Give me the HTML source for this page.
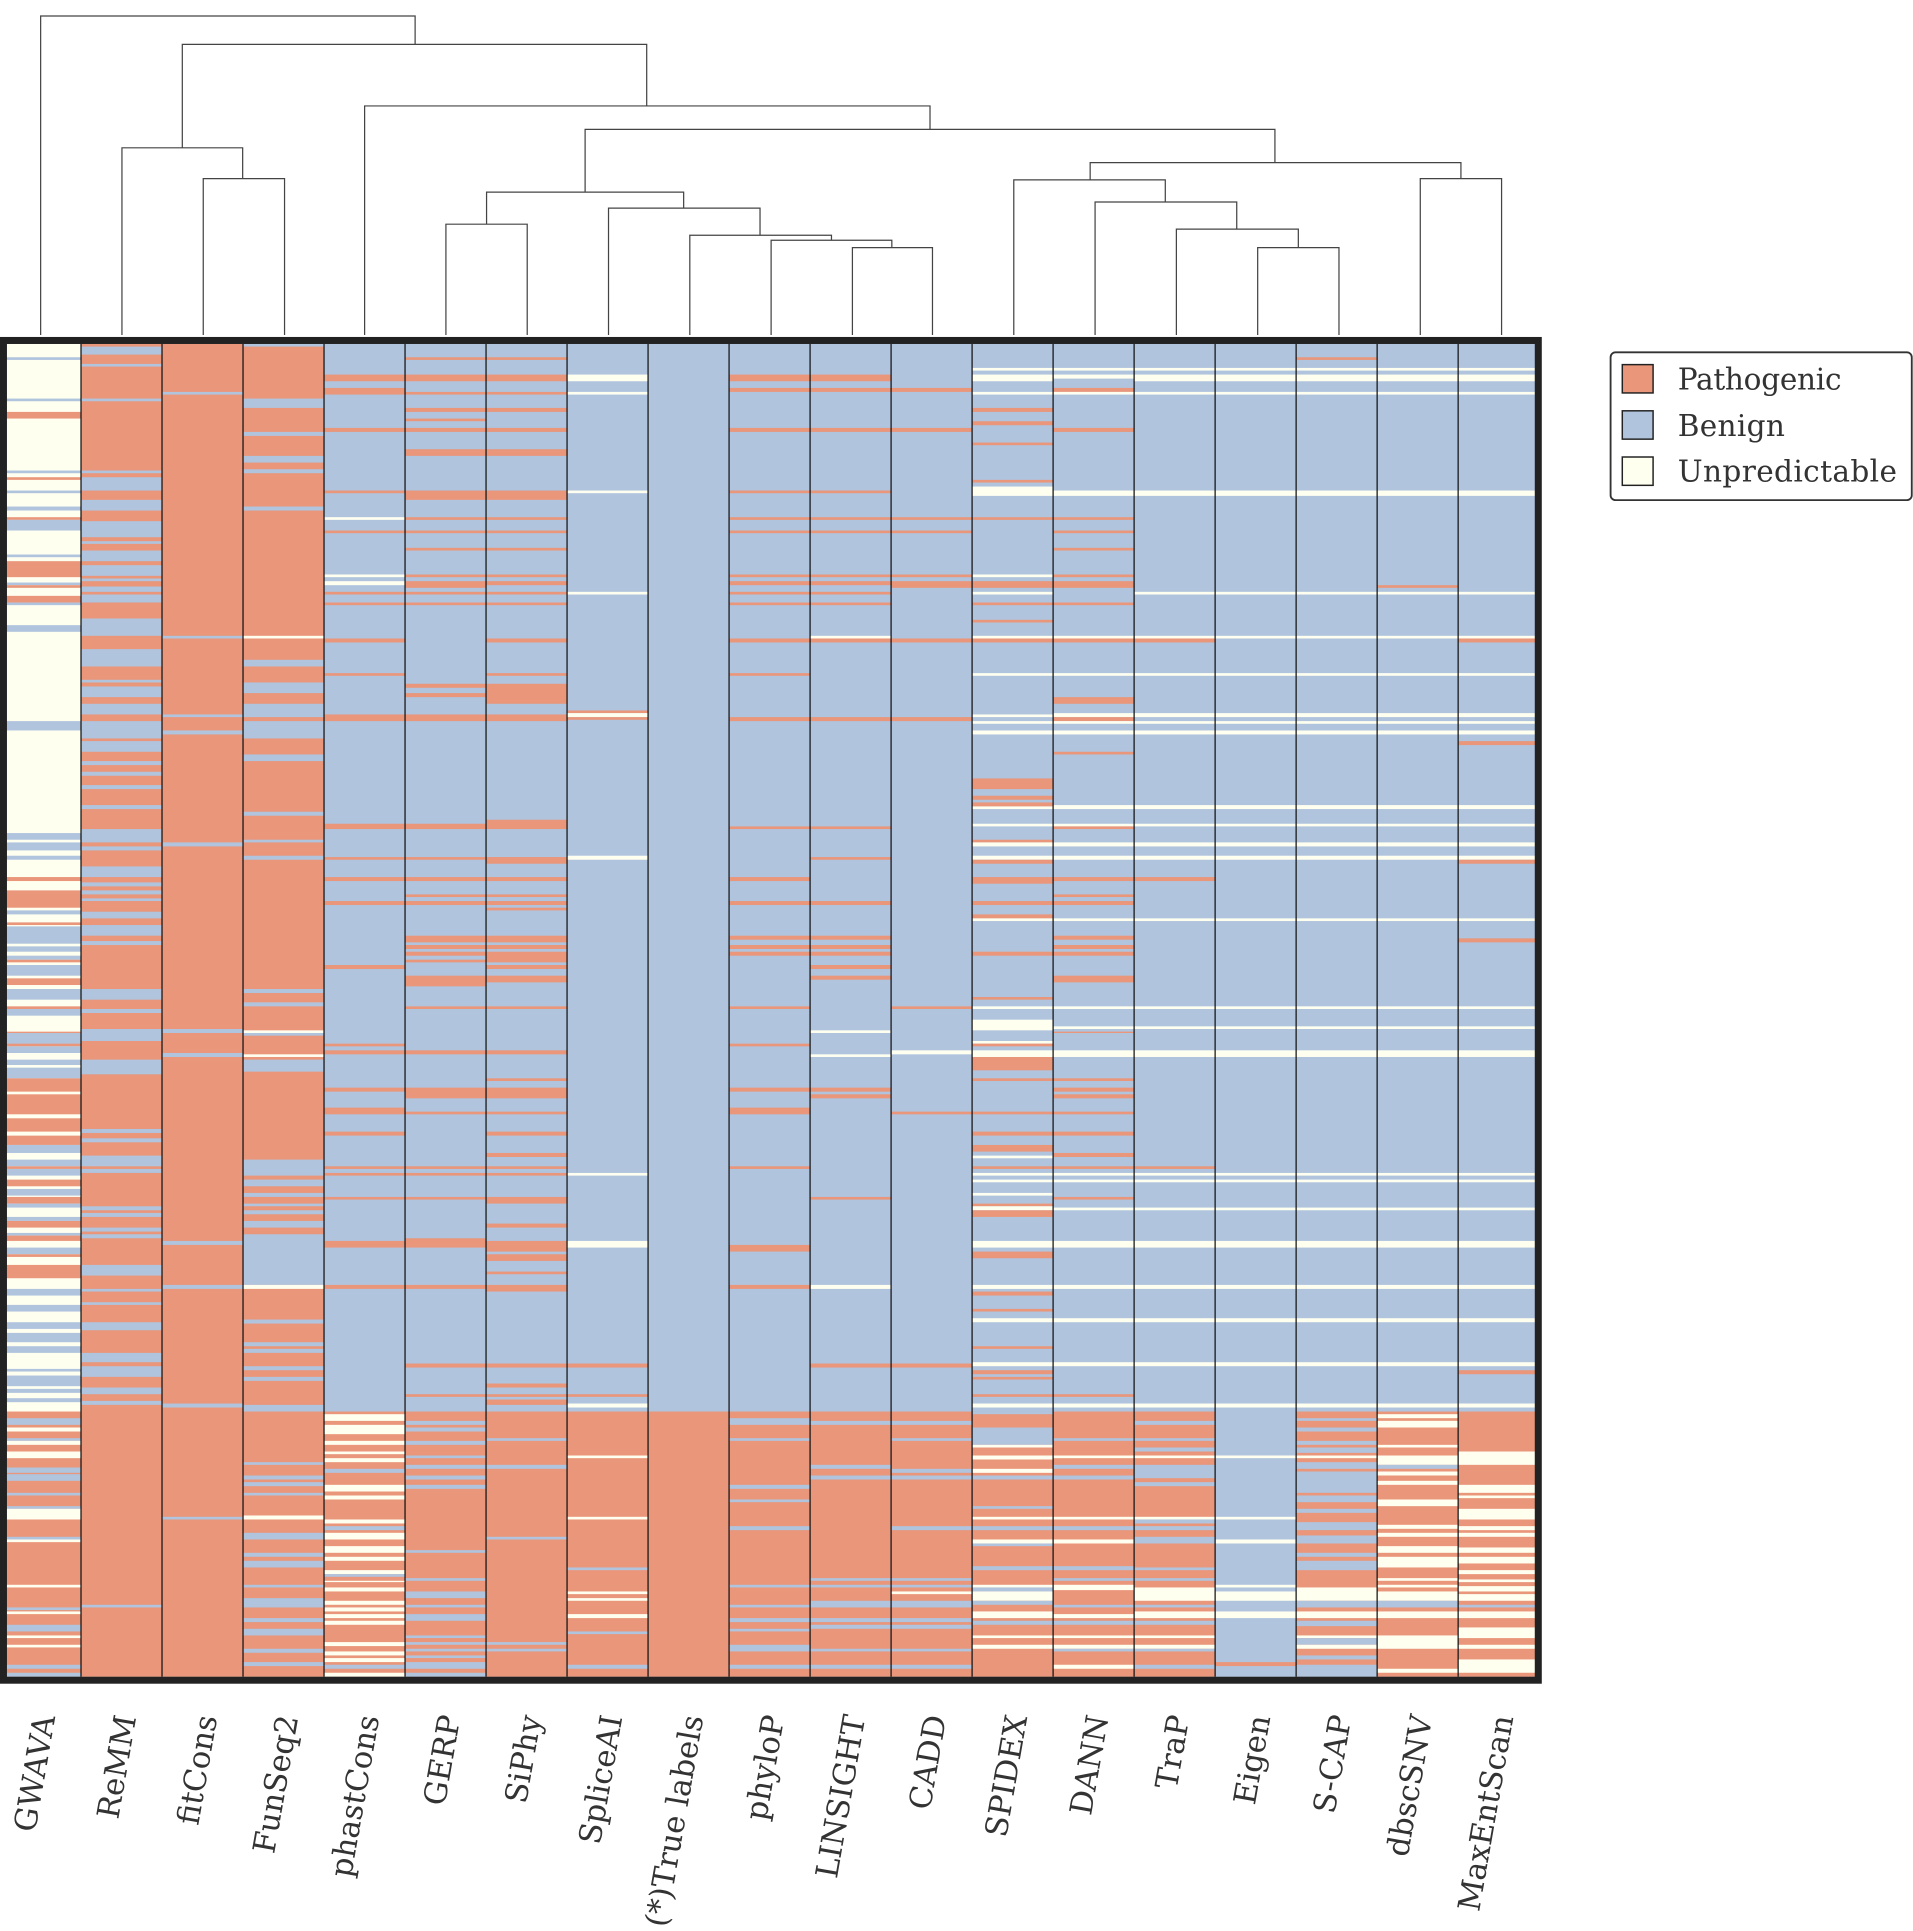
<!DOCTYPE html>
<html><head><meta charset="utf-8">
<style>
html,body{margin:0;padding:0;background:#fff;}
svg{display:block;}
text{font-family:"DejaVu Serif","Liberation Serif",serif;fill:#333;}
</style></head>
<body>
<svg id="chart" width="1913" height="1931" viewBox="0 0 1553 1567.6" preserveAspectRatio="none" xmlns="http://www.w3.org/2000/svg">
<g id="dendro" fill="none" stroke="#444" stroke-width="1">
<path d="M165,272 V145 H231 V272"/>
<path d="M99,272 V120 H197 V145"/>
<path d="M362,272 V182 H428 V272"/>
<path d="M692,272 V201 H757 V272"/>
<path d="M626,272 V195 H724 V201"/>
<path d="M560,272 V191 H675 V195"/>
<path d="M494,272 V169 H617 V191"/>
<path d="M395,182 V156 H555 V169"/>
<path d="M1021,272 V201 H1087 V272"/>
<path d="M955,272 V186 H1054 V201"/>
<path d="M889,272 V164 H1004 V186"/>
<path d="M823,272 V146 H946 V164"/>
<path d="M1153,272 V145 H1219 V272"/>
<path d="M885,146 V132 H1186 V145"/>
<path d="M475,156 V105 H1035 V132"/>
<path d="M296,272 V86 H755 V105"/>
<path d="M148,120 V36 H525 V86"/>
<path d="M33,272 V13 H337 V36"/>
</g>
<g id="cells"></g>
<g id="seps"></g>
<rect x="2.8" y="276.4" width="1246" height="1087.6" fill="none" stroke="#222" stroke-width="5.7"/>
<g id="xlabels"></g>
<g>
<rect x="1307.5" y="286" width="244.5" height="120" rx="4" fill="#fff" stroke="#333" stroke-width="1.5"/>
<rect x="1317" y="296" width="25" height="23" fill="#e9967a" stroke="#222" stroke-width="1.2"/>
<text x="1362" y="316" font-size="24" textLength="133">Pathogenic</text>
<rect x="1317" y="333.5" width="25" height="23" fill="#b0c4de" stroke="#222" stroke-width="1.2"/>
<text x="1362" y="354" font-size="24" textLength="87">Benign</text>
<rect x="1317" y="371" width="25" height="23" fill="#fffff0" stroke="#222" stroke-width="1.2"/>
<text x="1362" y="391" font-size="24" textLength="178">Unpredictable</text>
</g>
</svg>
<script>
const columns = ["GWAVA","ReMM","fitCons","FunSeq2","phastCons","GERP","SiPhy","SpliceAI","(*)True labels","phyloP","LINSIGHT","CADD","SPIDEX","DANN","TraP","Eigen","S-CAP","dbscSNV","MaxEntScan"];
const nRows = 1000;
const defaults = ["U","P","P","P","B","B","B","B","B","B","B","B","B","B","B","B","B","B","B"];
const commonU = [[18,20,"U"],[23,28,"U"],[36,38,"U"],[110,114,"U"],[186,188,"U"],[219,221,"U"],[247,249,"U"],[277,280,"U"],[283,285,"U"],[290,293,"U"],[346,349,"U"],[360,362,"U"],[374,377,"U"],[384,387,"U"],[431,433,"U"],[497,499,"U"],[512,514,"U"],[530,535,"U"],[622,624,"U"],[627,629,"U"],[648,650,"U"],[673,678,"U"],[706,709,"U"],[731,734,"U"],[764,767,"U"],[795,798,"U"]];
const runsGWAVA = [[10,12,"B"],[41,43,"B"],[51,56,"P"],[95,97,"B"],[100,102,"P"],[110,112,"B"],[122,125,"B"],[130,132,"P"],[132,140,"B"],[158,160,"B"],[163,175,"P"],[179,181,"B"],[181,183,"P"],[189,194,"P"],[194,196,"B"],[211,216,"B"],[283,290,"B"],[367,372,"B"],[374,380,"B"],[384,387,"B"],[400,403,"P"],[410,423,"P"],[425,428,"B"],[434,436,"P"],[437,450,"B"],[452,456,"B"],[459,462,"B"],[462,464,"P"],[466,474,"B"],[476,481,"P"],[484,492,"B"],[497,499,"P"],[499,504,"B"],[516,517,"P"],[517,526,"B"],[525,527,"P"],[527,532,"B"],[537,541,"B"],[543,551,"B"],[551,561,"P"],[563,578,"P"],[581,591,"P"],[594,601,"P"],[601,607,"B"],[612,617,"B"],[617,619,"P"],[619,624,"B"],[627,632,"P"],[634,639,"B"],[640,645,"P"],[645,648,"B"],[655,658,"B"],[658,663,"P"],[667,669,"B"],[669,673,"P"],[678,683,"B"],[683,685,"P"],[691,701,"P"],[709,714,"B"],[721,726,"B"],[734,739,"B"],[742,749,"B"],[752,757,"B"],[769,771,"B"],[774,782,"B"],[784,787,"B"],[791,794,"B"],[801,1000,"P"],[806,811,"B"],[813,816,"U"],[821,823,"B"],[823,826,"U"],[831,836,"U"],[843,847,"B"],[848,853,"B"],[862,864,"B"],[872,874,"B"],[874,882,"U"],[895,897,"B"],[897,899,"U"],[931,933,"U"],[948,950,"B"],[951,953,"U"],[961,966,"B"],[969,971,"U"],[976,978,"U"],[991,994,"B"],[997,1000,"B"]];
const runsReMM = [[2,8,"B"],[15,17,"B"],[41,43,"B"],[95,97,"B"],[100,110,"B"],[117,125,"B"],[133,145,"B"],[148,150,"B"],[155,163,"B"],[166,174,"B"],[176,178,"B"],[182,186,"B"],[188,194,"B"],[206,219,"B"],[229,242,"B"],[252,254,"B"],[257,265,"B"],[270,278,"B"],[283,296,"B"],[298,306,"B"],[313,316,"B"],[321,324,"B"],[331,334,"B"],[346,349,"B"],[364,374,"B"],[377,380,"B"],[392,400,"B"],[404,407,"B"],[410,413,"B"],[416,418,"B"],[426,431,"B"],[436,444,"B"],[448,451,"B"],[484,492,"B"],[499,502,"B"],[514,523,"B"],[537,548,"B"],[589,592,"B"],[596,599,"B"],[609,617,"B"],[619,622,"B"],[647,650,"B"],[652,655,"B"],[663,666,"B"],[668,671,"B"],[691,699,"B"],[709,711,"B"],[719,721,"B"],[734,740,"B"],[757,764,"B"],[767,775,"B"],[783,788,"B"],[793,796,"B"],[946,948,"B"]];
const runsFitCons = [[36,38,"B"],[219,221,"B"],[278,280,"B"],[290,293,"B"],[374,377,"B"],[514,517,"B"],[532,535,"B"],[673,676,"B"],[706,709,"B"],[795,798,"B"],[880,882,"B"]];
const runsFunSeq2 = [[0,2,"B"],[41,48,"B"],[66,69,"B"],[84,89,"B"],[94,97,"B"],[122,125,"B"],[219,221,"U"],[237,242,"B"],[254,262,"B"],[270,280,"B"],[283,296,"B"],[308,313,"B"],[351,354,"B"],[372,374,"B"],[384,387,"B"],[484,487,"B"],[494,497,"B"],[515,517,"U"],[517,519,"B"],[533,535,"U"],[537,546,"B"],[612,624,"B"],[627,632,"B"],[637,640,"B"],[645,647,"B"],[650,653,"B"],[658,663,"B"],[668,706,"B"],[706,709,"U"],[732,735,"B"],[749,752,"B"],[754,757,"B"],[767,770,"B"],[775,778,"B"],[796,801,"B"],[839,841,"B"],[849,852,"B"],[854,857,"B"],[862,864,"B"],[879,882,"U"],[892,897,"B"],[907,910,"B"],[913,918,"B"],[931,933,"B"],[941,948,"B"],[956,959,"B"],[964,969,"B"],[979,982,"B"],[989,992,"B"]];
const runsPhastCons = [[23,28,"P"],[33,38,"P"],[63,66,"P"],[110,112,"P"],[130,132,"U"],[140,142,"P"],[173,175,"U"],[178,181,"U"],[186,188,"P"],[194,196,"P"],[221,224,"P"],[247,249,"P"],[278,283,"P"],[360,364,"P"],[385,387,"P"],[400,403,"P"],[418,421,"P"],[466,469,"P"],[525,527,"P"],[530,533,"P"],[558,561,"P"],[573,578,"P"],[591,594,"P"],[617,619,"P"],[622,624,"P"],[640,642,"P"],[673,678,"P"],[706,709,"P"],[801,1000,"P"],[803,808,"U"],[811,818,"U"],[823,826,"U"],[831,833,"U"],[836,839,"U"],[844,847,"B"],[856,861,"U"],[864,867,"U"],[882,885,"U"],[887,890,"B"],[892,897,"U"],[902,907,"U"],[910,913,"U"],[920,923,"U"],[923,925,"B"],[928,929,"U"],[933,936,"U"],[943,946,"U"],[948,951,"U"],[953,956,"U"],[958,961,"U"],[974,977,"U"],[981,984,"U"],[986,989,"U"],[991,994,"B"],[997,1000,"U"]];
const runsGERP = [[10,12,"P"],[23,28,"P"],[36,38,"P"],[48,51,"P"],[56,58,"P"],[63,66,"P"],[79,84,"P"],[110,117,"P"],[130,132,"P"],[140,142,"P"],[153,155,"P"],[173,175,"P"],[178,183,"P"],[186,188,"P"],[194,196,"P"],[255,258,"P"],[262,265,"P"],[278,283,"P"],[360,364,"P"],[385,387,"P"],[400,403,"P"],[413,415,"P"],[418,421,"P"],[444,449,"P"],[451,454,"P"],[456,459,"P"],[462,464,"P"],[474,482,"P"],[497,499,"P"],[530,533,"P"],[558,566,"P"],[576,578,"P"],[617,619,"P"],[622,624,"P"],[640,642,"P"],[671,678,"P"],[706,709,"P"],[765,768,"P"],[788,790,"P"],[801,1000,"P"],[808,811,"B"],[813,816,"B"],[823,826,"B"],[834,836,"B"],[841,844,"B"],[849,852,"B"],[856,859,"B"],[905,907,"B"],[926,928,"B"],[936,941,"B"],[946,948,"B"],[953,958,"B"],[969,971,"B"],[974,976,"B"],[979,981,"B"],[984,986,"B"],[989,994,"B"],[997,1000,"B"]];
const runsSiPhy = [[10,12,"P"],[23,28,"P"],[36,38,"P"],[48,51,"P"],[63,66,"P"],[79,84,"P"],[110,117,"P"],[130,132,"P"],[140,142,"P"],[153,155,"P"],[173,175,"P"],[178,181,"P"],[186,188,"P"],[194,196,"P"],[221,224,"P"],[247,249,"P"],[255,270,"P"],[278,283,"P"],[357,364,"P"],[385,390,"P"],[400,403,"P"],[413,415,"P"],[418,421,"P"],[423,425,"P"],[444,449,"P"],[451,454,"P"],[456,464,"P"],[466,469,"P"],[474,479,"P"],[497,499,"P"],[530,533,"P"],[551,553,"P"],[558,566,"P"],[576,578,"P"],[591,594,"P"],[607,610,"P"],[617,619,"P"],[622,624,"P"],[640,645,"P"],[660,663,"P"],[673,681,"P"],[683,688,"P"],[696,698,"P"],[706,711,"P"],[765,768,"P"],[780,783,"P"],[788,790,"P"],[792,796,"P"],[801,1000,"P"],[821,823,"B"],[841,844,"B"],[895,897,"B"],[974,976,"B"],[979,981,"B"]];
const runsSpliceAI = [[23,28,"U"],[36,38,"U"],[110,112,"U"],[186,188,"U"],[275,277,"P"],[277,280,"U"],[280,282,"P"],[384,387,"U"],[622,624,"U"],[673,678,"U"],[765,768,"P"],[788,790,"P"],[795,798,"U"],[801,1000,"P"],[834,836,"U"],[880,882,"U"],[918,920,"B"],[936,938,"U"],[941,943,"U"],[953,956,"U"],[966,968,"B"],[991,994,"B"]];
const runsTrue = [[801,1000,"P"]];
const runsPhyloP = [[23,28,"P"],[33,36,"P"],[63,66,"P"],[110,112,"P"],[130,132,"P"],[140,142,"P"],[173,175,"P"],[178,181,"P"],[186,188,"P"],[194,196,"P"],[221,224,"P"],[247,249,"P"],[280,283,"P"],[362,364,"P"],[400,403,"P"],[418,421,"P"],[444,447,"P"],[451,454,"P"],[456,459,"P"],[497,499,"P"],[525,527,"P"],[558,561,"P"],[573,578,"P"],[617,619,"P"],[676,681,"P"],[706,709,"P"],[801,1000,"P"],[806,811,"B"],[821,823,"B"],[856,859,"B"],[867,869,"B"],[887,890,"B"],[931,933,"B"],[946,948,"B"],[956,959,"B"],[964,966,"B"],[976,981,"B"],[991,994,"B"]];
const runsLINSIGHT = [[23,28,"P"],[33,36,"P"],[63,66,"P"],[110,112,"P"],[130,132,"P"],[140,142,"P"],[173,175,"P"],[178,181,"P"],[186,188,"P"],[194,196,"P"],[219,221,"U"],[221,224,"P"],[280,283,"P"],[362,364,"P"],[385,387,"P"],[418,421,"P"],[444,447,"P"],[451,454,"P"],[456,459,"P"],[466,469,"P"],[474,477,"P"],[515,517,"U"],[533,535,"U"],[558,561,"P"],[563,566,"P"],[640,642,"P"],[706,709,"U"],[765,768,"P"],[801,1000,"P"],[808,811,"B"],[841,844,"B"],[849,852,"B"],[926,928,"B"],[931,933,"B"],[943,948,"B"],[956,959,"B"],[961,964,"B"],[979,981,"B"],[991,994,"B"]];
const runsCADD = [[33,36,"P"],[63,66,"P"],[130,132,"P"],[140,142,"P"],[173,175,"P"],[178,183,"P"],[221,224,"P"],[280,283,"P"],[497,499,"P"],[530,533,"U"],[576,578,"P"],[765,768,"P"],[801,1000,"P"],[808,811,"B"],[821,823,"B"],[844,847,"B"],[849,852,"B"],[887,890,"B"],[926,928,"B"],[931,933,"B"],[936,938,"U"],[943,948,"B"],[956,959,"B"],[961,964,"B"],[979,981,"B"],[991,994,"B"]];
const runsSPIDEX = [[18,20,"U"],[23,28,"U"],[36,38,"U"],[48,51,"P"],[58,61,"P"],[74,76,"P"],[102,104,"P"],[107,114,"U"],[130,132,"P"],[173,175,"U"],[178,183,"P"],[186,188,"U"],[194,196,"P"],[207,209,"P"],[219,221,"U"],[221,224,"P"],[247,249,"U"],[278,280,"U"],[283,285,"U"],[290,293,"U"],[326,334,"P"],[339,342,"P"],[344,347,"P"],[347,349,"U"],[360,362,"U"],[372,374,"P"],[374,377,"U"],[384,387,"U"],[387,390,"P"],[400,405,"P"],[418,421,"P"],[428,431,"P"],[431,433,"U"],[456,459,"P"],[490,492,"P"],[497,499,"U"],[507,515,"U"],[523,525,"U"],[525,527,"P"],[530,535,"U"],[535,545,"P"],[551,553,"P"],[576,578,"P"],[591,594,"P"],[601,606,"P"],[609,611,"U"],[617,619,"P"],[622,624,"U"],[627,629,"U"],[637,639,"U"],[645,647,"P"],[647,650,"U"],[650,655,"P"],[673,678,"U"],[681,686,"P"],[706,709,"U"],[711,714,"P"],[724,726,"P"],[731,734,"U"],[752,754,"P"],[764,767,"U"],[770,773,"P"],[775,777,"P"],[788,790,"P"],[795,798,"U"],[801,1000,"P"],[801,803,"B"],[813,826,"B"],[826,828,"U"],[834,837,"U"],[844,847,"U"],[849,852,"B"],[872,874,"B"],[880,882,"U"],[887,890,"B"],[897,900,"U"],[900,902,"B"],[917,920,"B"],[931,933,"U"],[933,936,"B"],[936,943,"U"],[943,946,"B"],[951,956,"U"],[958,961,"B"],[969,971,"U"],[976,979,"U"]];
const runsDANN = [[18,20,"U"],[23,26,"U"],[33,36,"P"],[36,38,"U"],[63,66,"P"],[110,114,"U"],[130,132,"P"],[140,142,"P"],[153,155,"P"],[173,175,"P"],[178,183,"P"],[194,196,"P"],[219,221,"U"],[221,224,"P"],[247,249,"U"],[265,270,"P"],[277,280,"U"],[280,283,"P"],[283,285,"U"],[290,293,"U"],[306,308,"P"],[346,349,"U"],[360,362,"U"],[362,364,"P"],[374,377,"U"],[384,387,"U"],[400,403,"P"],[413,415,"P"],[418,421,"P"],[431,433,"U"],[444,447,"P"],[451,454,"P"],[456,459,"P"],[474,479,"P"],[497,499,"U"],[512,514,"U"],[516,517,"P"],[530,535,"U"],[551,553,"P"],[558,561,"P"],[563,566,"P"],[576,578,"P"],[591,594,"P"],[607,610,"P"],[617,619,"P"],[622,624,"U"],[627,629,"U"],[640,642,"P"],[648,650,"U"],[673,678,"U"],[706,709,"U"],[731,734,"U"],[764,767,"U"],[788,790,"P"],[795,798,"U"],[801,1000,"P"],[821,823,"B"],[834,836,"U"],[841,844,"B"],[849,852,"B"],[880,882,"U"],[887,890,"B"],[897,900,"U"],[917,920,"B"],[926,928,"B"],[931,935,"U"],[946,948,"B"],[953,956,"U"],[958,961,"B"],[969,971,"U"],[976,979,"U"],[979,981,"B"],[991,994,"U"]];
const runsTraP = commonU.concat([[221,224,"P"],[400,403,"P"],[617,619,"P"],[801,1000,"P"],[808,811,"B"],[821,823,"B"],[828,831,"B"],[834,836,"U"],[841,851,"B"],[854,857,"B"],[880,882,"U"],[882,885,"B"],[887,890,"B"],[895,900,"B"],[918,920,"B"],[926,928,"B"],[933,943,"U"],[946,948,"B"],[951,956,"U"],[958,961,"B"],[969,971,"U"],[976,979,"U"],[979,981,"B"],[991,994,"B"]]);
const runsEigen = commonU.concat([[834,836,"U"],[880,882,"U"],[897,900,"U"],[931,933,"U"],[936,943,"U"],[951,956,"U"],[989,992,"P"]]);
const runsSCAP = commonU.concat([[10,12,"P"],[801,1000,"P"],[806,808,"B"],[813,816,"B"],[823,826,"B"],[828,832,"B"],[834,836,"U"],[839,844,"B"],[846,862,"B"],[864,869,"B"],[874,877,"B"],[884,890,"B"],[894,900,"B"],[907,910,"B"],[913,920,"B"],[933,943,"U"],[943,948,"B"],[951,956,"U"],[958,962,"B"],[969,971,"U"],[971,976,"B"],[976,979,"U"],[984,987,"B"],[991,1000,"B"]]);
const runsDbscSNV = commonU.concat([[181,183,"P"],[801,1000,"P"],[803,806,"U"],[808,813,"U"],[826,828,"U"],[834,841,"U"],[841,844,"B"],[846,849,"U"],[853,856,"U"],[867,872,"U"],[886,889,"U"],[892,895,"U"],[902,907,"U"],[910,918,"U"],[926,928,"U"],[931,933,"U"],[936,943,"U"],[943,948,"B"],[951,956,"U"],[969,979,"U"],[994,997,"U"]]);
const runsMaxEnt = commonU.concat([[221,224,"P"],[298,301,"P"],[387,390,"P"],[446,449,"P"],[770,773,"P"],[801,1000,"P"],[831,841,"U"],[856,862,"U"],[864,866,"U"],[874,882,"U"],[887,890,"U"],[892,895,"U"],[903,907,"U"],[910,915,"U"],[920,923,"U"],[927,929,"U"],[932,936,"U"],[938,943,"U"],[946,948,"B"],[951,956,"U"],[963,971,"U"],[976,979,"U"],[987,997,"U"]]);
const allRuns = [runsGWAVA,runsReMM,runsFitCons,runsFunSeq2,runsPhastCons,runsGERP,runsSiPhy,runsSpliceAI,runsTrue,runsPhyloP,runsLINSIGHT,runsCADD,runsSPIDEX,runsDANN,runsTraP,runsEigen,runsSCAP,runsDbscSNV,runsMaxEnt];

const colors = {P:"#e9967a", B:"#b0c4de", U:"#fffff0"};
const NS = "http://www.w3.org/2000/svg";
const plotX0 = 0, plotX1 = 1249.5, plotY0 = 279.2, plotY1 = 1361.2;
const colW = (plotX1 - plotX0) / columns.length;
function xScale(i){ return plotX0 + i * colW; }
function yScale(r){ return plotY0 + (r / nRows) * (plotY1 - plotY0); }

const cells = document.getElementById('cells');
columns.forEach(function(name, i){
  const bg = document.createElementNS(NS, 'rect');
  bg.setAttribute('x', xScale(i)); bg.setAttribute('width', colW + 0.3);
  bg.setAttribute('y', yScale(0)); bg.setAttribute('height', yScale(nRows) - yScale(0));
  bg.setAttribute('fill', colors[defaults[i]]);
  
  
  cells.appendChild(bg);
  allRuns[i].forEach(function(run){
    const r = document.createElementNS(NS, 'rect');
    r.setAttribute('x', xScale(i)); r.setAttribute('width', colW + 0.3);
    r.setAttribute('y', yScale(run[0])); r.setAttribute('height', Math.max(0.8, yScale(run[1]) - yScale(run[0])));
    r.setAttribute('fill', colors[run[2]]);
    
    
    cells.appendChild(r);
  });
});
const seps = document.getElementById('seps');
for (let i = 1; i < columns.length; i++){
  const l = document.createElementNS(NS, 'line');
  l.setAttribute('x1', xScale(i)); l.setAttribute('x2', xScale(i));
  l.setAttribute('y1', plotY0); l.setAttribute('y2', plotY1);
  l.setAttribute('stroke', '#111'); l.setAttribute('stroke-width', '1');
  
  
  seps.appendChild(l);
}
const xl = document.getElementById('xlabels');
columns.forEach(function(name, i){
  const t = document.createElementNS(NS, 'text');
  const cx = xScale(i) + colW / 2 + 12;
  const cy = 1394;
  t.setAttribute('x', cx); t.setAttribute('y', cy);
  t.setAttribute('text-anchor', 'end');
  t.setAttribute('font-size', '25');
  t.setAttribute('transform', 'rotate(-80 ' + cx + ' ' + cy + ')');
  t.textContent = name;
  
  
  xl.appendChild(t);
});
</script>
</body></html>
